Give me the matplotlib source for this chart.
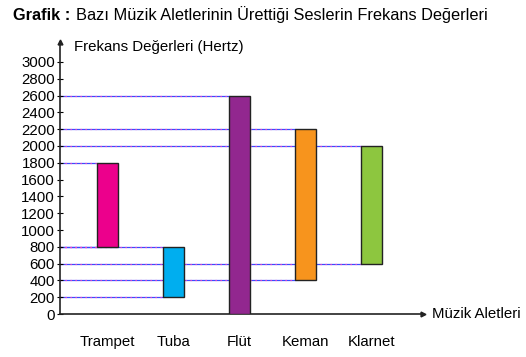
import matplotlib
matplotlib.use("Agg")
import matplotlib.pyplot as plt
import numpy as np

plt.rcParams['font.family'] = ['Liberation Sans', 'DejaVu Sans']

instruments = ["Trampet", "Tuba", "Flüt", "Keman", "Klarnet"]
low_hz = [800, 200, 0, 400, 600]
high_hz = [1800, 800, 2600, 2200, 2000]
colors = ["#EC008C", "#00AEEF", "#92278F", "#F7941D", "#8DC63F"]
yticks = list(range(0, 3001, 200))

fig = plt.figure(figsize=(5.26, 3.57), dpi=100)
ax = fig.add_axes([0.114, 0.1204, 0.69, 0.762])

x = np.arange(1, len(instruments) + 1)
width = 0.32

# dotted guide lines from the axis to the left edge of each bar
for xi, lo, hi in zip(x, low_hz, high_hz):
    for v in (lo, hi):
        if v == 0:
            continue
        ax.plot([0.28, xi - width / 2], [v, v], color="#3b4dff", lw=0.9, zorder=1)
        ax.plot([0.28, xi - width / 2], [v, v], color="#ff40c0", lw=0.9,
                linestyle=(0, (1, 3)), zorder=1.5)

ax.bar(x, np.array(high_hz) - np.array(low_hz), bottom=low_hz, width=width,
       color=colors, edgecolor="#222222", linewidth=1.0, zorder=3)

ax.set_xlim(0.28, 5.78)
ax.set_ylim(0, 3238)
ax.set_yticks(yticks)
ax.set_yticklabels([str(t) for t in yticks], fontsize=10.8)
ax.tick_params(axis='y', direction='inout', length=5, width=0.8, pad=1)
ax.set_xticks(x)
ax.set_xticklabels(instruments, fontsize=10.8)
ax.tick_params(axis='x', length=0, pad=15)

for s in ("top", "right"):
    ax.spines[s].set_visible(False)
for s in ("left", "bottom"):
    ax.spines[s].set_linewidth(1.2)
    ax.spines[s].set_color("#222222")

ax.plot(0, 1, marker="^", color="#222222", markersize=3.5,
        transform=ax.transAxes, clip_on=False)
ax.plot(1, 0, marker=">", color="#222222", markersize=3.5,
        transform=ax.transAxes, clip_on=False)

fig.text(74 / 526, 1 - 47 / 357, "Frekans Değerleri (Hertz)", fontsize=10.8,
         va="center", ha="left")
fig.text(432 / 526, 1 - 314 / 357, "Müzik Aletleri", fontsize=10.8,
         va="center", ha="left")

fig.text(13 / 526, 1 - 15 / 357, "Grafik :", fontsize=11.8, fontweight="bold",
         va="center", ha="left")
fig.text(76 / 526, 1 - 15 / 357,
         "Bazı Müzik Aletlerinin Ürettiği Seslerin Frekans Değerleri",
         fontsize=11.8, va="center", ha="left")

fig.savefig("out.png", dpi=100)
